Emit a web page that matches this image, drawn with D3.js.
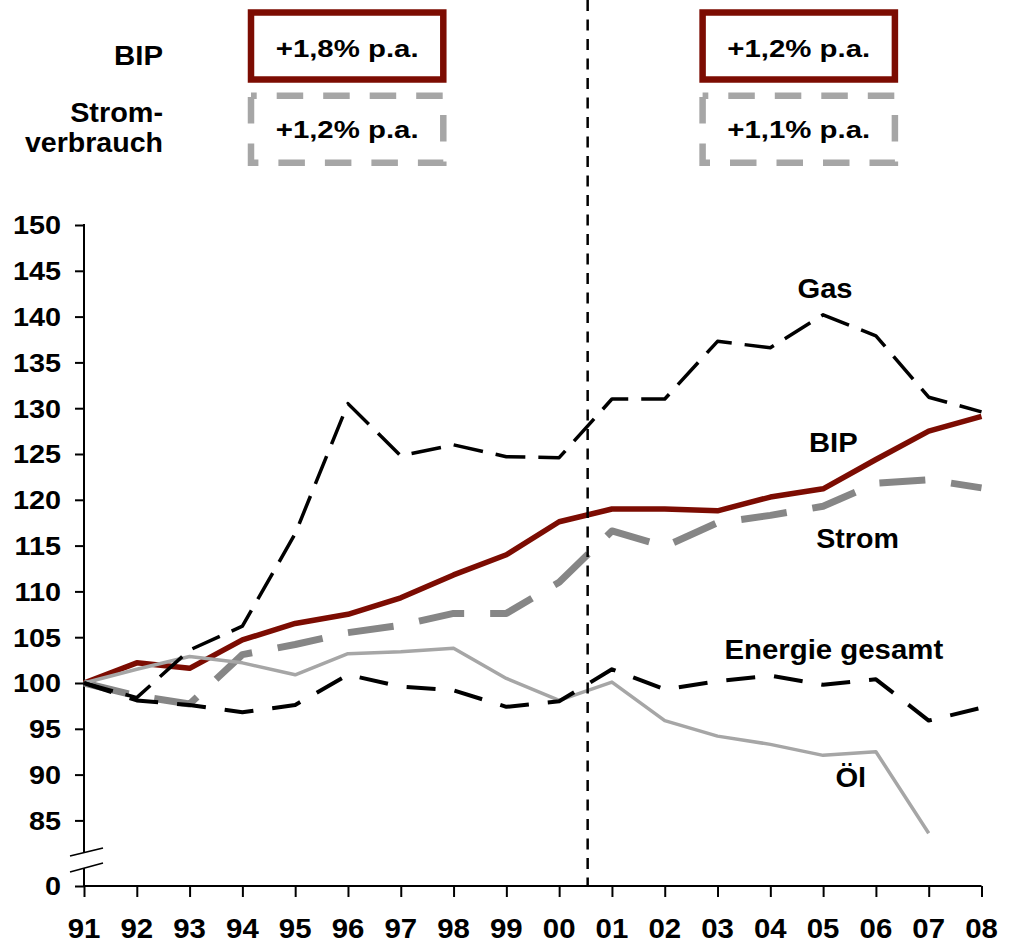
<!DOCTYPE html>
<html>
<head>
<meta charset="utf-8">
<script src="https://cdn.jsdelivr.net/npm/d3@7"></script>
<style>
  html, body { margin: 0; padding: 0; background: #fff; }
  svg { display: block; }
  text { font-family: "Liberation Sans", Arial, sans-serif; font-weight: bold; fill: #000; }
</style>
</head>
<body>
<svg id="chart" width="1023" height="942"></svg>
<script>
// Index 1991 = 100
const years = ["91","92","93","94","95","96","97","98","99","00","01","02","03","04","05","06","07","08"];
const bip     = [100, 102.2, 101.6, 104.7, 106.5, 107.5, 109.3, 111.8, 114.0, 117.6, 119.0, 119.0, 118.8, 120.3, 121.2, 124.4, 127.5, 129.1];
const gas     = [100, 98.4, 103.6, 106.2, 116.3, 130.5, 124.8, 126.0, 124.7, 124.6, 131.0, 131.0, 137.3, 136.6, 140.2, 137.9, 131.2, 129.6];
const strom   = [100, 98.6, 97.7, 103.1, 104.2, 105.5, 106.3, 107.6, 107.6, 111.0, 116.6, 114.9, 117.5, 118.3, 119.3, 121.8, 122.2, 121.3];
const energie = [100, 98.1, 97.6, 96.8, 97.6, 100.9, 99.6, 99.2, 97.4, 98.0, 101.5, 99.3, 100.2, 100.8, 99.8, 100.4, 95.9, 97.3];
const oel     = [100, 101.5, 102.9, 102.2, 100.9, 103.2, 103.4, 103.8, 100.5, 98.1, 100.1, 95.9, 94.2, 93.3, 92.1, 92.5, 83.6, null];

const yTicks = [0, 85, 90, 95, 100, 105, 110, 115, 120, 125, 130, 135, 140, 145, 150];

// Growth rates per period (1991-2000, 2000-2008)
const bipRates   = ["+1,8% p.a.", "+1,2% p.a."];
const stromRates = ["+1,2% p.a.", "+1,1% p.a."];

const svg = d3.select("#chart");

const x = d3.scalePoint().domain(years).range([84, 981.5]);
// broken value axis: 0 sits just below the break, 80..150 linear
const y = d3.scaleLinear().domain([0, 80, 150]).range([886, 866.2, 225]);

const FONT = "Liberation Sans, Arial, sans-serif";
function label(parent, txt, px, py, size, anchor, sx) {
  return parent.append("text")
    .attr("transform", `translate(${px},${py}) scale(${sx},1)`)
    .attr("text-anchor", anchor)
    .style("font-size", size + "px")
    .text(txt);
}

// ---- Y axis (broken) ----
const yAxis = svg.append("g").attr("transform", "translate(84,0)")
  .call(d3.axisLeft(y).tickValues(yTicks).tickSize(9).tickFormat(""));
yAxis.select(".domain").remove();
yAxis.selectAll(".tick line").attr("stroke", "#000").attr("stroke-width", 2);
yAxis.selectAll(".tick").each(function(d) {
  label(svg, d3.format("d")(d), 61, y(d) + 9.3, 25.5, "end", 1.13);
});
svg.append("line").attr("x1", 84).attr("x2", 84).attr("y1", y(150) - 1).attr("y2", 853)
  .attr("stroke", "#000").attr("stroke-width", 2);
svg.append("line").attr("x1", 84).attr("x2", 84).attr("y1", 868).attr("y2", y(0))
  .attr("stroke", "#000").attr("stroke-width", 2);
// break marks
[[856, 848], [872, 863]].forEach(([a, b]) => {
  svg.append("line").attr("x1", 70).attr("y1", a).attr("x2", 103).attr("y2", b)
    .attr("stroke", "#000").attr("stroke-width", 1.6);
});

// ---- X axis ----
const xAxis = svg.append("g").attr("transform", `translate(0,${y(0)})`)
  .call(d3.axisBottom(x).tickSize(11).tickFormat(""));
xAxis.select(".domain").attr("stroke", "#000").attr("stroke-width", 2)
  .attr("d", `M${x.range()[0]},0H${x.range()[1]}`);
xAxis.selectAll(".tick line").attr("stroke", "#000").attr("stroke-width", 2);
years.forEach(yr => label(svg, yr, x(yr), 938, 28, "middle", 1.05));

// ---- Series ----
const line = d3.line()
  .defined(d => d != null)
  .x((d, i) => x(years[i]))
  .y(d => y(d));

const series = [
  { values: bip,     color: "#7c0c02", width: 5.5, dash: null },
  { values: strom,   color: "#868686", width: 7,   dash: "46 26" },
  { values: oel,     color: "#a6a6a6", width: 3.5, dash: null },
  { values: energie, color: "#000",    width: 4,   dash: "29 19" },
  { values: gas,     color: "#000",    width: 3.5, dash: "30 13" }
];
series.forEach(s => {
  svg.append("path")
    .attr("d", line(s.values))
    .attr("fill", "none")
    .attr("stroke", s.color)
    .attr("stroke-width", s.width)
    .attr("stroke-linejoin", "round")
    .attr("stroke-dasharray", s.dash);
});

// period divider between 2000 and 2001
const xDiv = x("00") + x.step() * 0.54;
svg.append("line").attr("x1", xDiv).attr("x2", xDiv).attr("y1", 0).attr("y2", y(0))
  .attr("stroke", "#000").attr("stroke-width", 2.5).attr("stroke-dasharray", "11 8.5");

// series labels
label(svg, "Gas", 825, 298.3, 27, "middle", 1.08);
label(svg, "BIP", 833.3, 451.7, 27, "middle", 1.08);
label(svg, "Strom", 857.5, 548.3, 27, "middle", 1.06);
label(svg, "Energie gesamt", 833.8, 659.3, 28, "middle", 1.05);
label(svg, "Öl", 850.8, 787.3, 27, "middle", 1.08);

// ---- Growth rate boxes ----
const boxW = 192.3, boxH = 67;
[251, 702.6].forEach((bx, i) => {
  svg.append("rect").attr("x", bx).attr("y", 12.5).attr("width", boxW).attr("height", boxH)
    .attr("fill", "none").attr("stroke", "#7c0c02").attr("stroke-width", 6.5);
  svg.append("path")
    .attr("d", `M${bx},95.7H${bx + boxW}V${95.7 + boxH}H${bx}Z`)
    .attr("fill", "none").attr("stroke", "#a6a6a6").attr("stroke-width", 6.5)
    .attr("stroke-dasharray", "26.5 20").attr("stroke-dashoffset", 20.8);
  label(svg, bipRates[i], bx + boxW / 2, 56.7, 24.7, "middle", 1.19);
  label(svg, stromRates[i], bx + boxW / 2, 138.3, 24.7, "middle", 1.19);
});

label(svg, "BIP", 163, 65, 28, "end", 1.05);
label(svg, "Strom-", 163, 121.7, 28, "end", 1.03);
label(svg, "verbrauch", 163, 151.7, 28, "end", 1.02);
</script>
</body>
</html>
